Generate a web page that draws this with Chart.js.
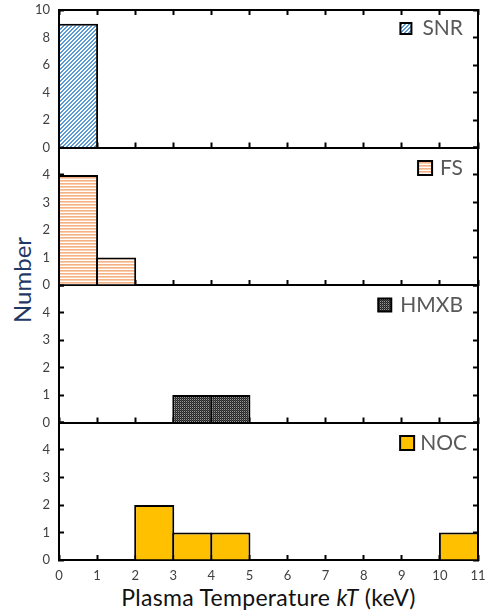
<!DOCTYPE html>
<html>
<head>
<meta charset="utf-8">
<script src="https://cdn.jsdelivr.net/npm/chart.js@4.4.1/dist/chart.umd.min.js"></script>
<style>
  html, body { margin: 0; padding: 0; background: #fff; }
  body { position: relative; width: 489px; height: 612px; overflow: hidden; font-family: Lato, "Open Sans", sans-serif; }
  canvas { position: absolute; left: 0; }
  #ytitle {
    position: absolute; left: 22px; top: 280px;
    transform: translate(-50%, -50%) rotate(-90deg);
    font-size: 24px; line-height: 24px; color: #1f3864; white-space: nowrap;
  }
  #xtitle {
    position: absolute; left: 268.5px; top: 586px;
    transform: translateX(-50%);
    font-size: 23px; line-height: 23px; letter-spacing: 0.3px; color: #111; white-space: nowrap;
  }
</style>
</head>
<body>
<div id="ytitle">Number</div>
<div id="xtitle">Plasma Temperature <i>kT</i> (keV)</div>
<script>
// Histogram bins (keV), 1 keV wide
const binEdges = [0, 1, 2, 3, 4, 5, 6, 7, 8, 9, 10, 11];
const xTickLabels = ['0', '1', '2', '3', '4', '5', '6', '7', '8', '9', '10', '11'];

// Source classes, one panel each (top to bottom)
const categories = ['SNR', 'FS', 'HMXB', 'NOC'];

// Counts per bin
const snrCounts  = [9, 0, 0, 0, 0, 0, 0, 0, 0, 0, 0];
const fsCounts   = [4, 1, 0, 0, 0, 0, 0, 0, 0, 0, 0];
const hmxbCounts = [0, 0, 0, 1, 1, 0, 0, 0, 0, 0, 0];
const nocCounts  = [0, 0, 2, 1, 1, 0, 0, 0, 0, 0, 1];

// Y axis range and tick step per panel
const yMaxes = [10, 5, 5, 5];
const ySteps = [2, 1, 1, 1];

// ---- layout ----
const W = 489;
const PLOT_TOP = 10;
const PANEL_H = 137.5;
const LEFT_W = 59;
const RIGHT_W = 11;
const BORDER = 2;
const FONT = 'Lato';
const unitPx = (W - LEFT_W - RIGHT_W) / (binEdges.length - 1);

// ---- fill patterns ----
function makePattern(w, h, paint) {
  const c = document.createElement('canvas');
  c.width = w; c.height = h;
  const g = c.getContext('2d');
  paint(g);
  return g.createPattern(c, 'repeat');
}
const hatchBlue = makePattern(4, 4, g => {
  g.fillStyle = '#fff'; g.fillRect(0, 0, 4, 4);
  g.fillStyle = '#5b9bd5';
  for (let x = 0; x < 4; x++) for (let y = 0; y < 4; y++) {
    const m = (x + y) % 4;
    if (m === 0 || m === 1) g.fillRect(x, y, 1, 1);
  }
});
const stripeOrange = makePattern(1, 3, g => {
  g.fillStyle = '#f4b183'; g.fillRect(0, 0, 1, 1);
  g.fillStyle = '#f9cfb0'; g.fillRect(0, 1, 1, 1);
  g.fillStyle = '#ffffff'; g.fillRect(0, 2, 1, 1);
});
const dotsDark = makePattern(2, 2, g => {
  g.fillStyle = '#262626'; g.fillRect(0, 0, 2, 2);
  g.fillStyle = '#9a9a9a'; g.fillRect(0, 0, 1, 1);
  g.fillStyle = '#4a4a4a'; g.fillRect(1, 1, 1, 1);
});

const panelFills = [hatchBlue, stripeOrange, dotsDark, '#ffc000'];
const panelCounts = [snrCounts, fsCounts, hmxbCounts, nocCounts];
// legend key box size, gap to text, inset from right edge, vertical centre offset
const legendStyle = [
  { box: 11, gap: 11, inset: 15, dy: 18.5 },
  { box: 14, gap: 8,  inset: 15, dy: 20.5 },
  { box: 13, gap: 9,  inset: 15, dy: 20 },
  { box: 14, gap: 6,  inset: 11, dy: 20.5 }
];

// Per-panel key drawn in the top-right corner of the plot area
const panelLegend = {
  id: 'panelLegend',
  afterDraw(chart, args, opts) {
    const { ctx, chartArea } = chart;
    const ds = chart.data.datasets[0];
    ctx.save();
    ctx.font = opts.fontSize + 'px ' + FONT;
    ctx.textAlign = 'right';
    ctx.textBaseline = 'middle';
    const right = chartArea.right - opts.inset;
    const cy = chartArea.top + opts.dy;
    ctx.fillStyle = '#595959';
    ctx.fillText(ds.label, right, cy);
    const tw = ctx.measureText(ds.label).width;
    const bx = right - tw - opts.gap - opts.box;
    const by = cy - opts.box / 2;
    ctx.fillStyle = ds.backgroundColor;
    ctx.fillRect(bx, by, opts.box, opts.box);
    ctx.lineWidth = 2;
    ctx.strokeStyle = '#000';
    ctx.strokeRect(bx, by, opts.box, opts.box);
    ctx.restore();
  }
};

const tickFont = { family: FONT, size: 13 };
const tickColor = '#404040';
const axisGrid = { drawOnChartArea: false, offset: false, tickLength: -5, tickWidth: 2, tickColor: '#000' };
const axisBorder = { color: '#000', width: BORDER };

// fixed axis thickness, no extra room reserved for edge labels
function fixSize(prop, value) {
  return s => {
    s[prop] = value;
    s.paddingTop = 0; s.paddingBottom = 0;
    s.paddingLeft = 0; s.paddingRight = 0;
  };
}

categories.forEach((name, k) => {
  const isLast = k === categories.length - 1;
  const panelTop = PLOT_TOP + PANEL_H * k;
  const canvasTop = Math.round(PANEL_H * k);
  const padTop = panelTop - canvasTop;
  const H = Math.ceil(padTop + PANEL_H + (isLast ? 40 : 4));
  const xh = H - padTop - PANEL_H;

  const cv = document.createElement('canvas');
  cv.width = W; cv.height = H;
  cv.style.top = canvasTop + 'px';
  document.body.appendChild(cv);

  const yMax = yMaxes[k];
  const counts = panelCounts[k];
  const points = counts.map((c, i) => ({
    x: (binEdges[i] + binEdges[i + 1]) / 2,
    y: c > 0 ? c : null
  }));

  const scales = {
    x: {
      type: 'linear', position: 'bottom', offset: false,
      min: binEdges[0], max: binEdges[binEdges.length - 1],
      ticks: {
        stepSize: 1, display: isLast, padding: 13, color: tickColor, font: tickFont,
        autoSkip: false, maxRotation: 0,
        callback: v => xTickLabels[binEdges.indexOf(v)]
      },
      grid: axisGrid, border: axisBorder,
      afterFit: fixSize('height', xh)
    },
    y: {
      position: 'left', min: 0, max: yMax,
      ticks: {
        stepSize: ySteps[k], padding: 14, color: tickColor, font: tickFont,
        callback: v => (k > 0 && v === yMax) ? '' : String(v)
      },
      grid: axisGrid, border: axisBorder,
      afterFit: fixSize('width', LEFT_W)
    },
    yRight: {
      position: 'right', min: 0, max: yMax,
      ticks: { stepSize: ySteps[k], display: false },
      grid: axisGrid, border: axisBorder,
      afterFit: fixSize('width', RIGHT_W)
    }
  };
  if (k === 0) {
    scales.xTop = {
      type: 'linear', position: 'top', offset: false,
      min: binEdges[0], max: binEdges[binEdges.length - 1],
      ticks: { stepSize: 1, display: false },
      grid: axisGrid, border: axisBorder,
      afterFit: fixSize('height', 0)
    };
  }

  new Chart(cv, {
    type: 'bar',
    data: {
      datasets: [{
        label: name,
        data: points,
        backgroundColor: panelFills[k],
        borderColor: '#000',
        borderWidth: BORDER,
        borderSkipped: 'start',
        barPercentage: 1 + BORDER / unitPx,
        categoryPercentage: 1,
        grouped: false
      }]
    },
    options: {
      responsive: false,
      animation: false,
      events: [],
      layout: { padding: { top: padTop, left: 0, right: 0, bottom: 0 } },
      scales,
      plugins: {
        legend: { display: false },
        tooltip: { enabled: false },
        panelLegend: Object.assign({ fontSize: 21 }, legendStyle[k])
      }
    },
    plugins: [panelLegend]
  });
});
</script>
</body>
</html>
